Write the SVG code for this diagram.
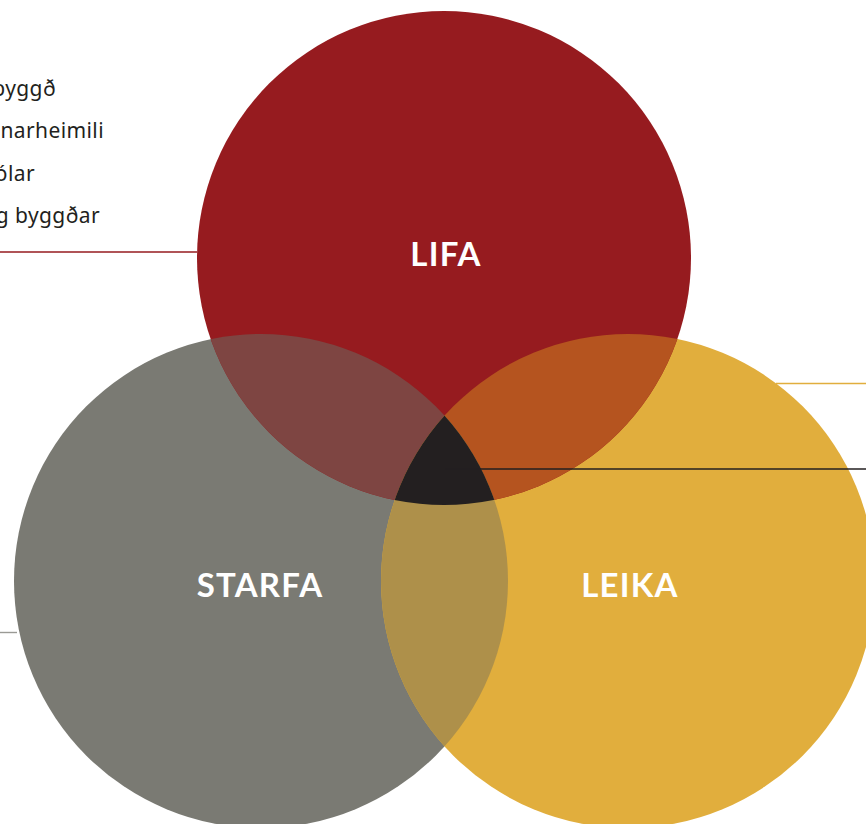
<svg xmlns="http://www.w3.org/2000/svg" width="866" height="824" viewBox="0 0 866 824">
  <style>
    .label { font-family: "Lato", "Open Sans", "Liberation Sans", sans-serif; font-weight: 700; font-size: 33px; fill: #ffffff; text-anchor: middle; letter-spacing: 1.2px; }
    .item { font-family: "Noto Sans", "Liberation Sans", sans-serif; font-size: 21px; fill: #231F20; text-anchor: end; letter-spacing: 0.4px; }
    .conn { fill: none; stroke-width: 1.4; }
  </style>
  <defs>
    <circle id="cLifa" cx="444" cy="258" r="247"/>
    <circle id="cStarfa" cx="261" cy="581" r="247"/>
    <circle id="cLeika" cx="628" cy="581" r="247"/>
    <clipPath id="clipLifa"><use href="#cLifa"/></clipPath>
    <clipPath id="clipStarfa"><use href="#cStarfa"/></clipPath>
    <clipPath id="clipLeika"><use href="#cLeika"/></clipPath>
  </defs>

  <rect width="866" height="824" fill="#ffffff"/>

  <!-- list of items, partly outside the left edge -->
  <g id="items">
    <text class="item" x="56" y="96">byggð</text>
    <text class="item" x="104" y="138">narheimili</text>
    <text class="item" x="35" y="181">ólar</text>
    <text class="item" x="100" y="223">g byggðar</text>
  </g>

  <!-- base circles -->
  <g id="starfa-shape"><use href="#cStarfa" fill="#7A7A73"/></g>
  <g id="leika-shape"><use href="#cLeika" fill="#E1AE3D"/></g>
  <g id="lifa-shape"><use href="#cLifa" fill="#961B1F"/></g>

  <!-- overlaps -->
  <g id="overlaps">
    <g clip-path="url(#clipLifa)"><use href="#cStarfa" fill="#7E4542"/></g>
    <g clip-path="url(#clipLifa)"><use href="#cLeika" fill="#B5541F"/></g>
    <g clip-path="url(#clipStarfa)"><use href="#cLeika" fill="#AE904A"/></g>
    <g clip-path="url(#clipLifa)"><g clip-path="url(#clipStarfa)"><use href="#cLeika" fill="#231F20"/></g></g>
  </g>

  <!-- connectors -->
  <g id="connectors">
    <line class="conn" x1="0" y1="252" x2="197" y2="252" stroke="#961B1F"/>
    <line class="conn" x1="776" y1="383.5" x2="866" y2="383.5" stroke="#E1AE3D"/>
    <line class="conn" x1="445" y1="469" x2="866" y2="469" stroke="#231F20"/>
    <line class="conn" x1="0" y1="632.5" x2="17" y2="632.5" stroke="#9A9A95"/>
  </g>

  <!-- labels -->
  <g id="lifa"><text class="label" x="446" y="266">LIFA</text></g>
  <g id="starfa"><text class="label" x="260" y="597">STARFA</text></g>
  <g id="leika"><text class="label" x="630" y="597">LEIKA</text></g>
</svg>
